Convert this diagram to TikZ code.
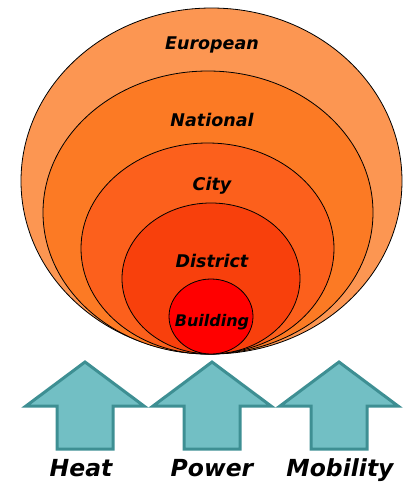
\documentclass[tikz,border=0pt]{standalone}
\usepackage{fontspec}
\newfontfamily\scalefont{DejaVu Sans}
\usetikzlibrary{calc}

\definecolor{europeanfill}{RGB}{252,150,82}
\definecolor{nationalfill}{RGB}{252,122,36}
\definecolor{cityfill}{RGB}{252,96,28}
\definecolor{districtfill}{RGB}{248,64,12}
\definecolor{buildingfill}{RGB}{255,0,0}
\definecolor{arrowfill}{RGB}{114,191,196}
\definecolor{arrowline}{RGB}{62,143,147}

\begin{document}
\begin{tikzpicture}[
    x=1pt, y=-1pt,
    level/.style={draw=black, line width=0.8pt},
    levellabel/.style={anchor=base, font=\scalefont\bfseries\itshape\fontsize{17.5}{19}\selectfont},
    carrier/.style={fill=arrowfill, draw=arrowline, line width=3pt, line join=miter},
    carrierlabel/.style={anchor=base, font=\scalefont\bfseries\itshape\fontsize{23.5}{26}\selectfont}
]
    \useasboundingbox (0,0) rectangle (409,482);

    % Draw the nested levels, largest first
    \draw[level, fill=europeanfill] (211.5,181) ellipse (190.5 and 173);
    \draw[level, fill=nationalfill] (208,212.5) ellipse (165 and 141.5);
    \draw[level, fill=cityfill] (207.5,248.5) ellipse (126.5 and 105.5);
    \draw[level, fill=districtfill] (211,278.5) ellipse (89 and 75.5);
    \draw[level, fill=buildingfill] (211,316.5) ellipse (42 and 37.5);

    % Add labels for the levels
    \node[levellabel] (european) at (212,49) {European};
    \node[levellabel] (national) at (212,126) {National};
    \node[levellabel] (city) at (212,190) {City};
    \node[levellabel] (district) at (212,267) {District};
    \node[levellabel, font=\scalefont\bfseries\itshape\fontsize{16}{18}\selectfont] (building) at (212,326) {Building};

    % Draw the energy carrier arrows
    \foreach \cx/\name in {85/heat, 212/power, 339/mobility} {
        \coordinate (\name-tip) at (\cx,362);
        \draw[carrier] (\name-tip) -- (\cx+59,406) -- (\cx+28,406) -- (\cx+28,449)
            -- (\cx-28,449) -- (\cx-28,406) -- (\cx-59,406) -- cycle;
    }

    % Label the carriers
    \node[carrierlabel] (heat) at (81,476) {Heat};
    \node[carrierlabel] (power) at (212,476) {Power};
    \node[carrierlabel] (mobility) at (340,476) {Mobility};
\end{tikzpicture}
\end{document}
